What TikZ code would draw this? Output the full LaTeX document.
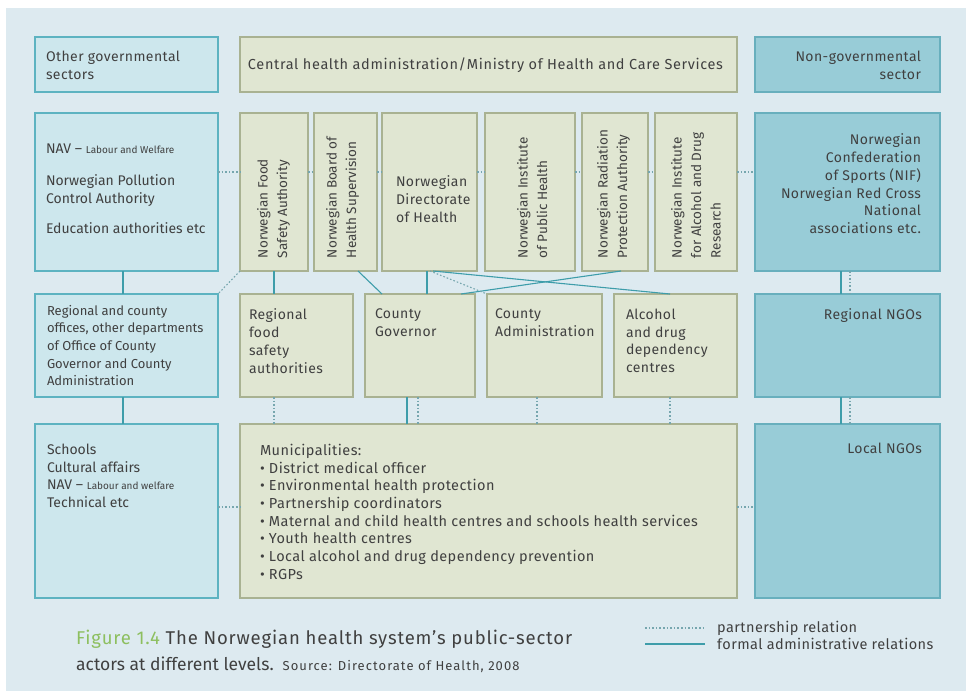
\documentclass[tikz,border=0pt]{standalone}
\usepackage{fontspec}
\setmainfont{Fira Sans}
\newfontfamily\lsfont{Fira Sans}[LetterSpace=3]
\newfontfamily\lsfontb{Fira Sans}[LetterSpace=4.5]
\newfontfamily\lsfontc{Fira Sans}[LetterSpace=8]
\usetikzlibrary{calc}
\definecolor{bg}{HTML}{DDEAF0}
\definecolor{govfill}{HTML}{CDE7ED}
\definecolor{govdraw}{HTML}{5DB3C1}
\definecolor{hfill}{HTML}{E0E6D2}
\definecolor{hdraw}{HTML}{A9B292}
\definecolor{ngofill}{HTML}{98CCD7}
\definecolor{ngodraw}{HTML}{68AFBD}
\definecolor{lnk}{HTML}{3E9DAA}
\definecolor{plnk}{HTML}{76A6AE}
\definecolor{txt}{HTML}{404040}
\definecolor{figgreen}{HTML}{8DBF5F}
\newcommand\fsn{\lsfont\fontsize{14}{17.7}\selectfont}
\newcommand\fsp{\fontsize{14}{17.7}\selectfont}
\newcommand\fsr{\fontsize{13}{17.7}\selectfont}
\newcommand\fsm{\lsfont\fontsize{14.5}{17.7}\selectfont}
\newcommand\fsv{\fontsize{13.5}{19.5}\selectfont}
\newcommand\fss{\fontsize{10}{12}\selectfont}
\tikzset{
  anybox/.style={line width=1.3pt, inner sep=0pt, outer sep=0pt, anchor=north west},
  govbox/.style={anybox, draw=govdraw, fill=govfill},
  hbox/.style={anybox, draw=hdraw, fill=hfill},
  ngobox/.style={anybox, draw=ngodraw, fill=ngofill},
  lbl/.style={inner sep=0pt, outer sep=0pt, text=txt, font=\fsn, align=left, anchor=north west},
  rlbl/.style={lbl, align=right, anchor=north east},
  vlbl/.style={inner sep=0pt, outer sep=0pt, text=txt, font=\fsv, align=left, rotate=90, anchor=north west},
  formal/.style={draw=lnk, line width=1.1pt},
  partner/.style={draw=plnk, line width=1.1pt, dash pattern=on 1.6pt off 2pt}
}
\begin{document}
\begin{tikzpicture}[x=1pt,y=-1pt]
\useasboundingbox (0,0) rectangle (970,691);
\fill[white] (0,0) rectangle (970,691);
\fill[bg] (6,8) rectangle (966,691);

% row 1
\node[govbox, minimum width=183, minimum height=55] (ogs) at (35,37) {};
\node[hbox, minimum width=497, minimum height=55] (cha) at (240,37) {};
\node[ngobox, minimum width=185, minimum height=55] (ngs) at (755,37) {};
% row 2
\node[govbox, minimum width=183, minimum height=158] (nav) at (35,113) {};
\node[hbox, minimum width=68, minimum height=158] (fsa) at (240,113) {};
\node[hbox, minimum width=63, minimum height=158] (bhs) at (314,113) {};
\node[hbox, minimum width=95, minimum height=158] (dir) at (382,113) {};
\node[hbox, minimum width=90, minimum height=158] (nip) at (485,113) {};
\node[hbox, minimum width=66, minimum height=158] (nrp) at (582,113) {};
\node[hbox, minimum width=82, minimum height=158] (nad) at (655,113) {};
\node[ngobox, minimum width=185, minimum height=158] (nif) at (755,113) {};
% row 3
\node[govbox, minimum width=183, minimum height=103] (rco) at (35,294) {};
\node[hbox, minimum width=113, minimum height=103] (rfs) at (240,294) {};
\node[hbox, minimum width=110, minimum height=103] (cgv) at (365,294) {};
\node[hbox, minimum width=115, minimum height=103] (cad) at (487,294) {};
\node[hbox, minimum width=123, minimum height=103] (adc) at (614,294) {};
\node[ngobox, minimum width=185, minimum height=103] (rngo) at (755,294) {};
% row 4
\node[govbox, minimum width=183, minimum height=174] (sch) at (35,424) {};
\node[hbox, minimum width=497, minimum height=174] (mun) at (240,424) {};
\node[ngobox, minimum width=185, minimum height=174] (lngo) at (755,424) {};

% texts
\node[lbl] (t-ogs) at (46,51) {Other governmental\\sectors};
\node[lbl, anchor=center, align=center, font=\lsfontb\fontsize{14.5}{17.7}\selectfont] (t-cha) at ($(cha.center)+(-3,1)$) {Central health administration/Ministry of Health and Care Services};
\node[rlbl] (t-ngs) at (921,51) {Non-governmental\\sector};
\node[lbl, font=\fsp] (t-nav) at (46,144) {NAV -- {\fss Labour and Welfare}\\[14pt]Norwegian Pollution\\Control Authority\\[12.5pt]Education authorities etc};
\node[vlbl] (t-fsa) at (257,258) {Norwegian Food\\Safety Authority};
\node[vlbl] (t-bhs) at (326,258) {Norwegian Board of\\Health Supervision};
\node[lbl] (t-dir) at (396,176) {Norwegian\\Directorate\\of Health};
\node[vlbl] (t-nip) at (517,258) {Norwegian Institute\\of Public Health};
\node[vlbl] (t-nrp) at (597,258) {Norwegian Radiation\\Protection Authority};
\node[vlbl] (t-nad) at (671,258) {Norwegian Institute\\for Alcohol and Drug\\Research};
\node[rlbl] (t-nif) at (921,134) {Norwegian\\Confederation\\of Sports (NIF)\\Norwegian Red Cross\\National\\associations etc.};
\node[lbl, font=\fsr] (t-rco) at (47,305) {Regional and county\\offices, other departments\\of Office of County\\Governor and County\\Administration};
\node[lbl] (t-rfs) at (249,309) {Regional\\food\\safety\\authorities};
\node[lbl] (t-cgv) at (375,309) {County\\Governor};
\node[lbl] (t-cad) at (495,309) {County\\Administration};
\node[lbl] (t-adc) at (626,309) {Alcohol\\and drug\\dependency\\centres};
\node[rlbl] (t-rngo) at (922,309) {Regional NGOs};
\node[lbl, font=\fsp] (t-sch) at (47,444) {Schools\\Cultural affairs\\NAV -- {\fss Labour and welfare}\\Technical etc};
\node[lbl, font=\fsm] (t-mun) at (260,444) {Municipalities:\\• District medical officer\\• Environmental health protection\\• Partnership coordinators\\• Maternal and child health centres and schools health services\\• Youth health centres\\• Local alcohol and drug dependency prevention\\• RGPs};
\node[rlbl] (t-lngo) at (922,443) {Local NGOs};

% column coordinates
\coordinate (x123) at (123,0);
\coordinate (x274) at (274,0);
\coordinate (x358) at (358,0);
\coordinate (x382) at (382,0);
\coordinate (x407) at (407,0);
\coordinate (x418) at (418,0);
\coordinate (x427) at (427,0);
\coordinate (x430) at (430,0);
\coordinate (x433) at (433,0);
\coordinate (x461) at (461,0);
\coordinate (x537) at (537,0);
\coordinate (x621) at (621,0);
\coordinate (x670) at (670,0);
\coordinate (x841) at (841,0);
\coordinate (x850) at (850,0);
\coordinate (y172) at (0,172);
\coordinate (y507) at (0,507);

% formal relations
\draw[formal] (nav.south -| x123) -- (rco.north -| x123);
\draw[formal] (rco.south -| x123) -- (sch.north -| x123);
\draw[formal] (fsa.south -| x274) -- (rfs.north -| x274);
\draw[formal] (bhs.south -| x358) -- (cgv.north -| x382);
\draw[formal] (dir.south -| x427) -- (cgv.north -| x427);
\draw[formal] (dir.south -| x433) -- (adc.north -| x670);
\draw[formal] (nrp.south -| x621) -- (cgv.north -| x461);
\draw[formal] (cgv.south -| x407) -- (mun.north -| x407);
\draw[formal] (nif.south -| x841) -- (rngo.north -| x841);
\draw[formal] (rngo.south -| x841) -- (lngo.north -| x841);

% partnership relations
\draw[partner] (nav.east |- y172) -- (fsa.west |- y172);
\draw[partner] (fsa.east |- y172) -- (bhs.west |- y172);
\draw[partner] (bhs.east |- y172) -- (dir.west |- y172);
\draw[partner] (dir.east |- y172) -- (nip.west |- y172);
\draw[partner] (nip.east |- y172) -- (nrp.west |- y172);
\draw[partner] (nrp.east |- y172) -- (nad.west |- y172);
\draw[partner] (nad.east |- y172) -- (nif.west |- y172);
\draw[partner] (fsa.south west) -- (rco.north east);
\draw[partner] (dir.south -| x430) -- (cad.north west);
\draw[partner] (rfs.south -| x274) -- (mun.north -| x274);
\draw[partner] (cgv.south -| x418) -- (mun.north -| x418);
\draw[partner] (cad.south -| x537) -- (mun.north -| x537);
\draw[partner] (adc.south -| x670) -- (mun.north -| x670);
\draw[partner] (nif.south -| x850) -- (rngo.north -| x850);
\draw[partner] (rngo.south -| x850) -- (lngo.north -| x850);
\draw[partner] (sch.east |- y507) -- (mun.west |- y507);
\draw[partner] (mun.east |- y507) -- (lngo.west |- y507);

% caption
\node[inner sep=0pt, anchor=base west, text=txt, font=\lsfontb\fontsize{18.5}{21}\selectfont] (cap1) at (76,644) {{\color{figgreen}Figure 1.4} The Norwegian health system’s public-sector};
\node[inner sep=0pt, anchor=base west, text=txt, font=\fontsize{17.5}{21}\selectfont] (cap2) at (76,670) {actors at different levels.\hspace{9pt}{\lsfontc\fontsize{13}{14}\selectfont Source: Directorate of Health, 2008}};

% legend
\coordinate (l1a) at (645,628);
\coordinate (l1b) at (705,628);
\coordinate (l2a) at (645,644);
\coordinate (l2b) at (705,644);
\draw[partner] (l1a) -- (l1b);
\draw[formal] (l2a) -- (l2b);
\node[inner sep=0pt, anchor=base west, text=txt, font=\lsfont\fontsize{14.5}{17}\selectfont] (leg1) at (717,632) {partnership relation};
\node[inner sep=0pt, anchor=base west, text=txt, font=\lsfont\fontsize{14.5}{17}\selectfont] (leg2) at (717,649) {formal administrative relations};
\end{tikzpicture}
\end{document}
